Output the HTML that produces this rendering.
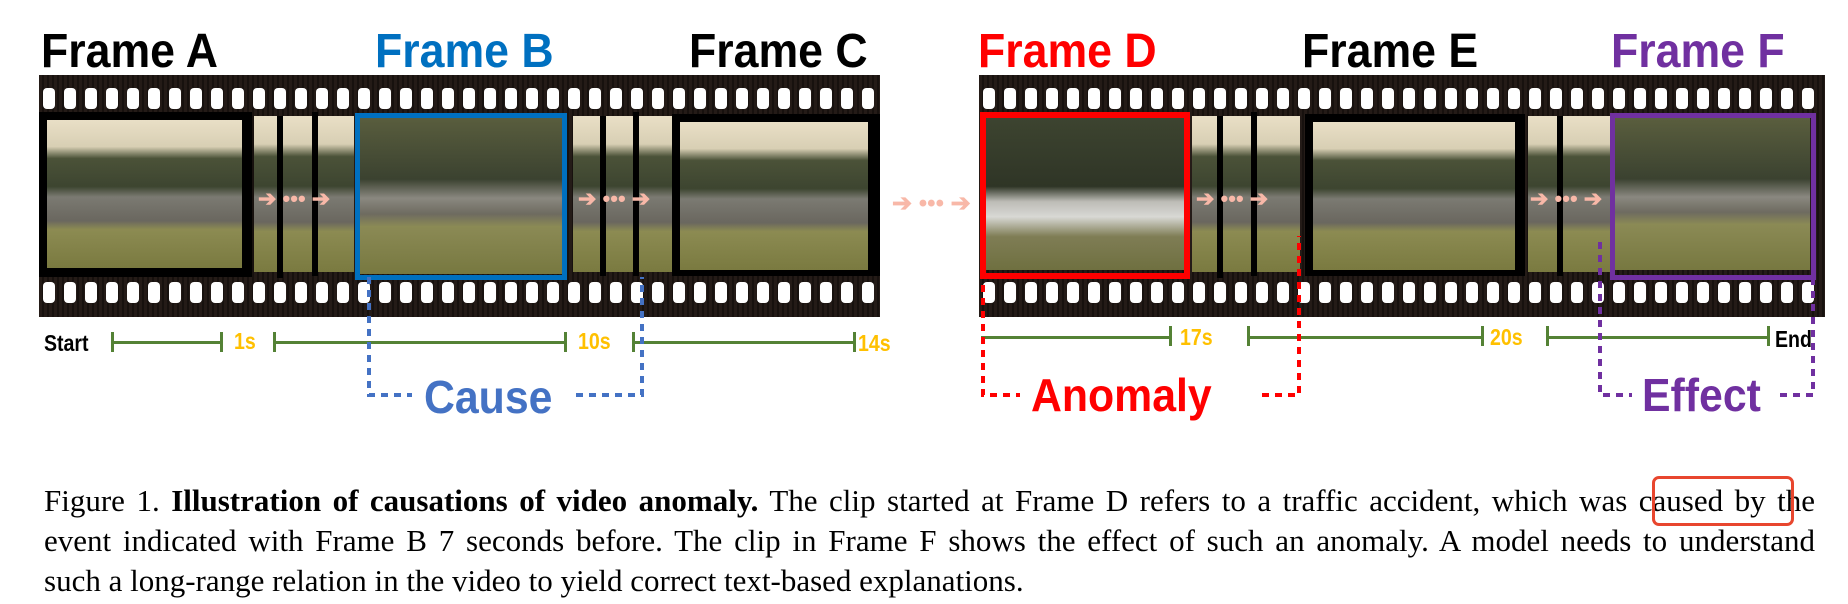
<!DOCTYPE html>
<html><head><meta charset="utf-8"><style>
body{margin:0;width:1848px;height:604px;background:#fff;position:relative;overflow:hidden;font-family:"Liberation Sans",sans-serif}
.a{position:absolute}
.t{position:absolute;font-weight:bold;font-size:48px;line-height:1;white-space:nowrap;transform-origin:0 0;transform:scaleX(0.93)}
.strip{position:absolute;background:repeating-linear-gradient(90deg,#241b17 0 3px,#17110e 3px 5px)}
.hole{position:absolute;width:12px;height:21px;background:#fff;border-radius:4px}
.sc{position:absolute;background:linear-gradient(180deg,#e9dfc6 0%,#d8cfb4 18%,#4b5238 26%,#3d4530 45%,#7b7a72 52%,#6a675f 68%,#8c8b52 74%,#7a7a40 100%)}
.sc2{position:absolute;background:linear-gradient(180deg,#5a5e3e 0%,#3b4230 40%,#8a8880 52%,#6e6b60 62%,#8b8a55 70%,#777840 100%)}
.bk{position:absolute;background:#000}
.arr{position:absolute;color:#f8b8a8;font-size:22px;font-weight:bold;line-height:1}
.tl{position:absolute;height:3px;background:#548235}
.tk{position:absolute;width:3px;height:20px;background:#548235}
.ol{position:absolute;color:#ffc000;font-weight:bold;font-size:23px;line-height:1;transform:scaleX(0.85);transform-origin:0 0}
.cap{position:absolute;left:44px;width:1771px;font-family:"Liberation Serif",serif;font-size:31px;line-height:1;white-space:nowrap}
.j{text-align:justify;text-align-last:justify;white-space:normal}
</style></head><body>

<div class="t" style="left:41px;top:28px;color:#000">Frame A</div>
<div class="t" style="left:375px;top:28px;color:#0070c0">Frame B</div>
<div class="t" style="left:689px;top:28px;color:#000">Frame C</div>
<div class="t" style="left:978px;top:28px;color:#f00">Frame D</div>
<div class="t" style="left:1302px;top:28px;color:#000">Frame E</div>
<div class="t" style="left:1611px;top:28px;color:#7030a0">Frame F</div>

<div class="strip" style="left:39px;top:75px;width:841px;height:242px"></div>
<div class="strip" style="left:979px;top:75px;width:846px;height:242px"></div>
<div id="holes"></div>

<div class="bk" style="left:39px;top:112px;width:213px;height:165px"></div>
<div class="sc" style="left:47px;top:120px;width:195px;height:148px"></div>
<div class="sc" style="left:254px;top:116px;width:100px;height:156px"></div>
<div class="bk" style="left:277px;top:116px;width:6px;height:162px"></div>
<div class="bk" style="left:312px;top:112px;width:6px;height:164px"></div>
<div class="arr" style="left:258px;top:188px">➔ ••• ➔</div>
<div class="sc2" style="left:358px;top:116px;width:206px;height:158px"></div>
<div class="a" style="left:355px;top:113px;width:202px;height:157px;border:5px solid #0070c0"></div>
<div class="sc" style="left:573px;top:116px;width:104px;height:156px"></div>
<div class="bk" style="left:600px;top:116px;width:6px;height:160px"></div>
<div class="bk" style="left:633px;top:112px;width:6px;height:164px"></div>
<div class="arr" style="left:578px;top:188px">➔ ••• ➔</div>
<div class="bk" style="left:672px;top:114px;width:208px;height:162px"></div>
<div class="sc" style="left:680px;top:122px;width:188px;height:148px"></div>

<div class="arr" style="left:892px;top:192px;font-size:24px">➔ ••• ➔</div>

<div class="sc2" style="left:985px;top:118px;width:200px;height:152px;background:linear-gradient(180deg,#3d4430 0%,#2f3526 45%,#bdbcb6 55%,#d8d8d4 65%,#7f7d55 78%,#6f7040 100%)"></div>
<div class="a" style="left:980px;top:112px;width:198px;height:155px;border:6px solid #f00"></div>
<div class="sc" style="left:1192px;top:116px;width:108px;height:156px"></div>
<div class="bk" style="left:1217px;top:116px;width:6px;height:162px"></div>
<div class="bk" style="left:1251px;top:112px;width:6px;height:164px"></div>
<div class="arr" style="left:1196px;top:188px">➔ ••• ➔</div>
<div class="bk" style="left:1305px;top:114px;width:220px;height:162px"></div>
<div class="sc" style="left:1313px;top:122px;width:202px;height:148px"></div>
<div class="sc" style="left:1528px;top:116px;width:83px;height:156px"></div>
<div class="bk" style="left:1557px;top:116px;width:6px;height:160px"></div>
<div class="arr" style="left:1530px;top:188px">➔ ••• ➔</div>
<div class="sc2" style="left:1614px;top:118px;width:196px;height:152px"></div>
<div class="a" style="left:1610px;top:113px;width:196px;height:157px;border:5px solid #7030a0"></div>

<div class="a" style="left:44px;top:330px;font-weight:bold;font-size:23px;transform:scaleX(0.85);transform-origin:0 0">Start</div>
<div class="tl" style="left:112px;top:341px;width:110px"></div><div class="tk" style="left:111px;top:332px"></div><div class="tk" style="left:220px;top:332px"></div>
<div class="ol" style="left:234px;top:330px">1s</div>
<div class="tl" style="left:273px;top:341px;width:293px"></div><div class="tk" style="left:273px;top:332px"></div><div class="tk" style="left:564px;top:332px"></div>
<div class="ol" style="left:578px;top:330px">10s</div>
<div class="tl" style="left:632px;top:341px;width:222px"></div><div class="tk" style="left:632px;top:332px"></div><div class="tk" style="left:853px;top:332px"></div>
<div class="ol" style="left:858px;top:332px">14s</div>

<div class="tl" style="left:981px;top:336px;width:189px"></div><div class="tk" style="left:1169px;top:326px"></div>
<div class="ol" style="left:1180px;top:326px">17s</div>
<div class="tl" style="left:1247px;top:336px;width:236px"></div><div class="tk" style="left:1247px;top:326px"></div><div class="tk" style="left:1481px;top:326px"></div>
<div class="ol" style="left:1490px;top:326px">20s</div>
<div class="tl" style="left:1546px;top:336px;width:222px"></div><div class="tk" style="left:1546px;top:326px"></div><div class="tk" style="left:1767px;top:326px"></div>
<div class="a" style="left:1775px;top:326px;font-weight:bold;font-size:23px;transform:scaleX(0.85);transform-origin:0 0">End</div>

<svg class="a" style="left:0;top:0" width="1848" height="604">
<g stroke-width="4" fill="none" stroke-dasharray="7 6">
<path d="M369 277 V395 H412" stroke="#4472c4"/>
<path d="M576 395 H642 V277" stroke="#4472c4"/>
<path d="M983 285 V395 H1020" stroke="#f00"/>
<path d="M1262 395 H1299 V236" stroke="#f00"/>
<path d="M1600 242 V395 H1632" stroke="#7030a0"/>
<path d="M1780 395 H1813 V277" stroke="#7030a0"/>
</g></svg>
<div class="t" style="left:424px;top:374px;color:#4472c4;font-size:46px">Cause</div>
<div class="t" style="left:1031px;top:372px;color:#f00;font-size:46px">Anomaly</div>
<div class="t" style="left:1642px;top:372px;color:#7030a0;font-size:46px">Effect</div>

<div class="cap j" style="top:485px">Figure 1. <b>Illustration of causations of video anomaly.</b> The clip started at Frame D refers to a traffic accident, which was caused by the</div>
<div class="cap j" style="top:525px">event indicated with Frame B 7 seconds before. The clip in Frame F shows the effect of such an anomaly. A model needs to understand</div>
<div class="cap" style="top:565px">such a long-range relation in the video to yield correct text-based explanations.</div>
<div class="a" style="left:1652px;top:476px;width:136px;height:44px;border:3px solid #e8462e;border-radius:7px"></div>

<script>
var h=document.getElementById('holes'),s='';
[[43,877],[983,1822]].forEach(function(r){
 for(var x=r[0];x+12<=r[1];x+=21){
  s+='<div class="hole" style="left:'+x+'px;top:88px"></div><div class="hole" style="left:'+x+'px;top:282px"></div>';
 }});
h.innerHTML=s;
</script>
</body></html>
